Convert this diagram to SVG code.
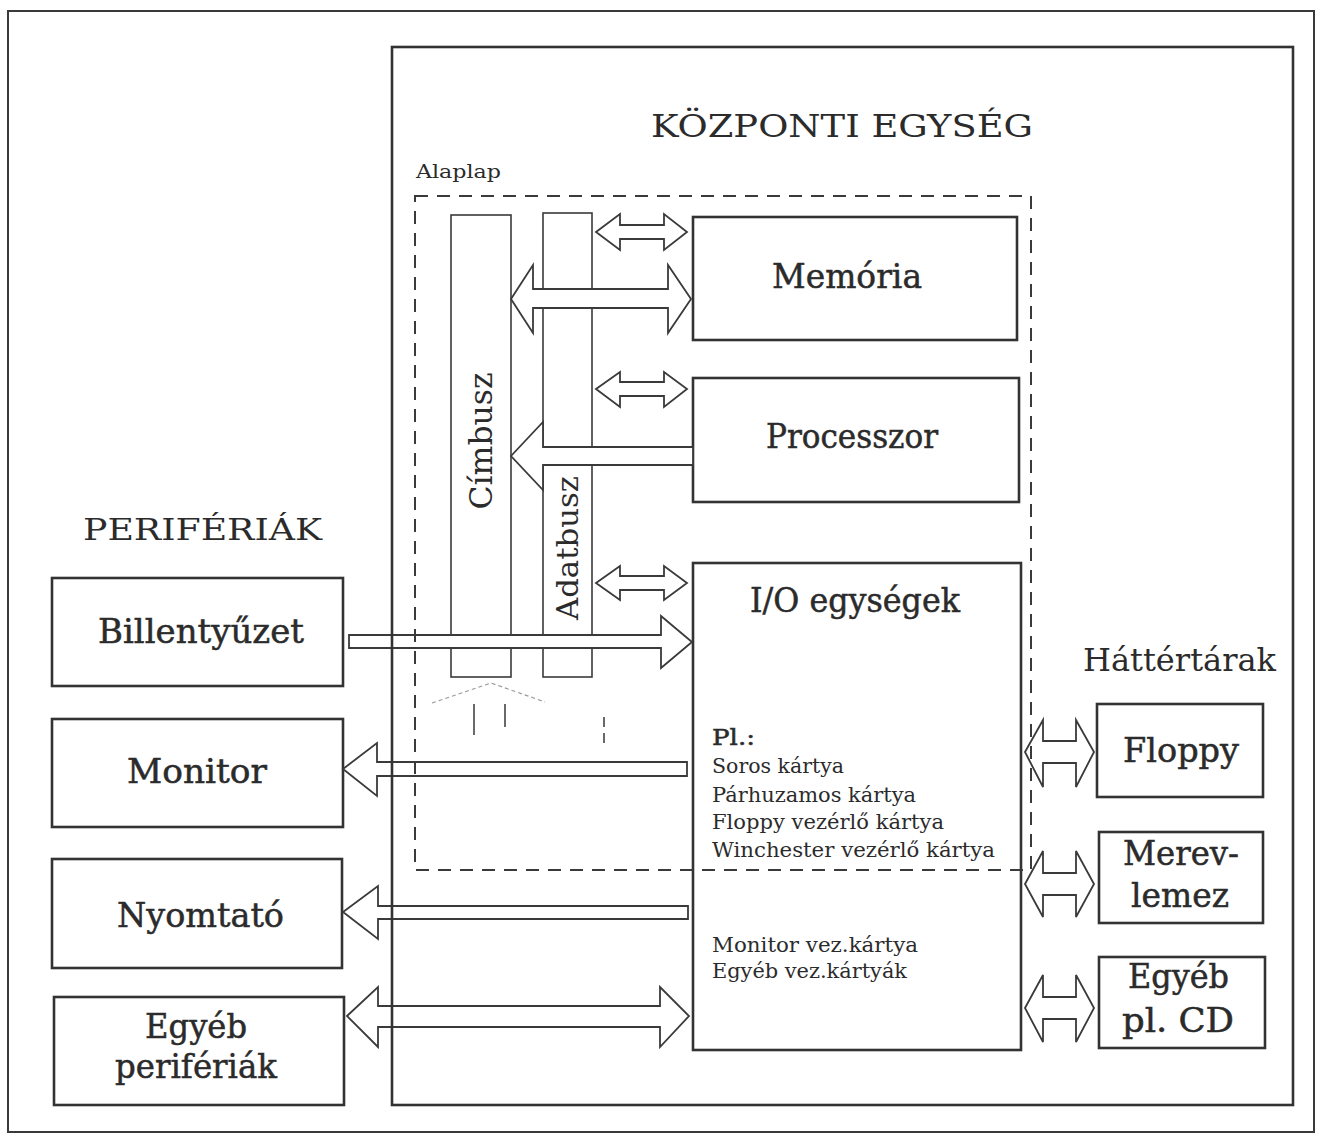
<svg xmlns="http://www.w3.org/2000/svg" width="1321" height="1140" viewBox="0 0 1321 1140">
<style>
.frame{fill:none;stroke:#3a3a3a;stroke-width:2}
.box{fill:#fff;stroke:#333;stroke-width:2.6}
.bus{fill:#fff;stroke:#3a3a3a;stroke-width:1.6}
.dash{fill:none;stroke:#3a3a3a;stroke-width:2;stroke-dasharray:13 9}
.arrow{fill:#fff;stroke:#3a3a3a;stroke-width:1.8;stroke-linejoin:miter}
.faint{fill:none;stroke:#9a9a9a;stroke-width:1.2}
text{font-family:"DejaVu Serif","Liberation Serif",serif;fill:#2b2b2b}
.lbl{font-size:33px;stroke:#2b2b2b;stroke-width:0.5}
.title{font-size:32px}
.small{font-size:20px}
</style>
<rect width="1321" height="1140" fill="#fff"/>
<g id="outer-frame"><rect class="frame" x="8" y="11" width="1306" height="1121" stroke-width="1.6"/></g>
<g id="central-unit-frame"><rect x="392" y="47" width="901" height="1058" fill="none"/></g>
<text x="842" y="137" class="title" text-anchor="middle" textLength="382" lengthAdjust="spacingAndGlyphs">KÖZPONTI EGYSÉG</text>
<text x="416" y="178" style="font-size:19px" textLength="85" lengthAdjust="spacingAndGlyphs">Alaplap</text>
<text x="83" y="540" class="title" style="font-size:30px" textLength="239" lengthAdjust="spacingAndGlyphs">PERIFÉRIÁK</text>
<text x="1083" y="671" class="title" style="font-size:31px" textLength="193" lengthAdjust="spacingAndGlyphs">Háttértárak</text>

<g id="cimbusz"><rect class="bus" x="451" y="215" width="60" height="462"/>
<text transform="translate(492,441) rotate(-90)" text-anchor="middle" style="font-size:32px" textLength="137" lengthAdjust="spacingAndGlyphs">Címbusz</text></g>
<g id="adatbusz"><rect class="bus" x="543" y="213" width="49" height="234"/><rect class="bus" x="543" y="465" width="49" height="212"/>
<text transform="translate(578,548) rotate(-90)" text-anchor="middle" style="font-size:30px" textLength="144" lengthAdjust="spacingAndGlyphs">Adatbusz</text></g>

<g id="memoria"><rect class="box" x="693" y="217" width="324" height="123"/>
<text x="847" y="288" class="lbl" text-anchor="middle" textLength="150" lengthAdjust="spacingAndGlyphs">Memória</text></g>
<g id="processzor"><rect class="box" x="693" y="378" width="326" height="124"/>
<text x="852" y="448" class="lbl" text-anchor="middle" textLength="172" lengthAdjust="spacingAndGlyphs">Processzor</text></g>
<g id="io"><rect class="box" x="693" y="563" width="328" height="487"/>
<text x="855" y="612" class="lbl" text-anchor="middle" textLength="210" lengthAdjust="spacingAndGlyphs">I/O egységek</text>
<text x="712" y="745" style="font-size:22px;stroke:#2b2b2b;stroke-width:0.5" textLength="43" lengthAdjust="spacingAndGlyphs">Pl.:</text>
<text x="712" y="773" class="small" textLength="132" lengthAdjust="spacingAndGlyphs">Soros kártya</text>
<text x="712" y="802" class="small" textLength="204" lengthAdjust="spacingAndGlyphs">Párhuzamos kártya</text>
<text x="712" y="829" class="small" textLength="232" lengthAdjust="spacingAndGlyphs">Floppy vezérlő kártya</text>
<text x="712" y="857" class="small" textLength="283" lengthAdjust="spacingAndGlyphs">Winchester vezérlő kártya</text>
<text x="712" y="952" class="small" textLength="206" lengthAdjust="spacingAndGlyphs">Monitor vez.kártya</text>
<text x="712" y="978" class="small" textLength="195" lengthAdjust="spacingAndGlyphs">Egyéb vez.kártyák</text></g>

<g id="billentyuzet"><rect class="box" x="52" y="578" width="291" height="108"/>
<text x="98" y="643" class="lbl" textLength="206" lengthAdjust="spacingAndGlyphs">Billentyűzet</text></g>
<g id="monitor"><rect class="box" x="52" y="719" width="291" height="108"/>
<text x="127" y="783" class="lbl" textLength="140" lengthAdjust="spacingAndGlyphs">Monitor</text></g>
<g id="nyomtato"><rect class="box" x="52" y="859" width="290" height="109"/>
<text x="117" y="927" class="lbl" textLength="167" lengthAdjust="spacingAndGlyphs">Nyomtató</text></g>
<g id="egyeb-periferiak"><rect class="box" x="54" y="997" width="290" height="108"/>
<text x="145" y="1038" class="lbl" textLength="102" lengthAdjust="spacingAndGlyphs">Egyéb</text>
<text x="115" y="1078" class="lbl" textLength="162" lengthAdjust="spacingAndGlyphs">perifériák</text></g>

<g id="floppy"><rect class="box" x="1097" y="704" width="166" height="93"/>
<text x="1123" y="762" class="lbl" textLength="116" lengthAdjust="spacingAndGlyphs">Floppy</text></g>
<g id="merevlemez"><rect class="box" x="1099" y="832" width="164" height="91"/>
<text x="1123" y="865" class="lbl" textLength="116" lengthAdjust="spacingAndGlyphs">Merev-</text>
<text x="1131" y="907" class="lbl" textLength="98" lengthAdjust="spacingAndGlyphs">lemez</text></g>
<g id="egyeb-cd"><rect class="box" x="1099" y="957" width="166" height="91"/>
<text x="1128" y="988" class="lbl" textLength="101" lengthAdjust="spacingAndGlyphs">Egyéb</text>
<text x="1122" y="1032" class="lbl" textLength="112" lengthAdjust="spacingAndGlyphs">pl. CD</text></g>

<g id="connectors">
<polygon class="arrow" points="596,232 620,214 620,225 664,225 664,214 687,232 664,250 664,239 620,239 620,250"/>
<polygon class="arrow" points="511,299 533,265 533,289 668,289 668,265 691,299 668,333 668,308 533,308 533,333"/>
<polygon class="arrow" points="596,389 620,372 620,382 664,382 664,372 687,389 664,407 664,396 620,396 620,407"/>
<polygon class="arrow" points="511,456 543,422 543,447 693,447 693,465 543,465 543,490"/>
<polygon class="arrow" points="596,583 620,566 620,576 664,576 664,566 687,583 664,600 664,590 620,590 620,600"/>
<polygon class="arrow" points="349,635 661,635 661,616 692,642 661,668 661,648 349,648"/>
<polygon class="arrow" points="687,762 377,762 377,743 343,769 377,796 377,776 687,776"/>
<polygon class="arrow" points="688,906 378,906 378,886 343,912 378,939 378,919 688,919"/>
<polygon class="arrow" points="347,1016 378,987 378,1006 660,1006 660,987 689,1016 660,1047 660,1027 378,1027 378,1047"/>
<polygon class="arrow" points="1025,752 1043,720 1043,741 1076,741 1076,720 1094,752 1076,787 1076,763 1043,763 1043,787"/>
<polygon class="arrow" points="1025,884 1043,851 1043,873 1076,873 1076,851 1094,884 1076,917 1076,895 1043,895 1043,917"/>
<polygon class="arrow" points="1025,1008 1043,975 1043,997 1076,997 1076,975 1094,1008 1076,1042 1076,1019 1043,1019 1043,1042"/>
</g>

<g id="frames-over">
<rect x="392" y="47" width="901" height="1058" fill="none" stroke="#333" stroke-width="2.6"/>
<rect class="dash" x="415" y="196" width="616" height="674"/>
</g>
<g id="faint-marks">
<polyline class="faint" points="432,703 491,683 545,702" stroke-dasharray="4 3"/>
<line x1="474" y1="704" x2="474" y2="735" stroke="#444" stroke-width="1.6"/>
<line x1="505" y1="704" x2="505" y2="727" stroke="#444" stroke-width="1.6"/>
<line x1="604" y1="717" x2="604" y2="745" stroke="#444" stroke-width="1.6" stroke-dasharray="10 6"/>
</g>
</svg>
